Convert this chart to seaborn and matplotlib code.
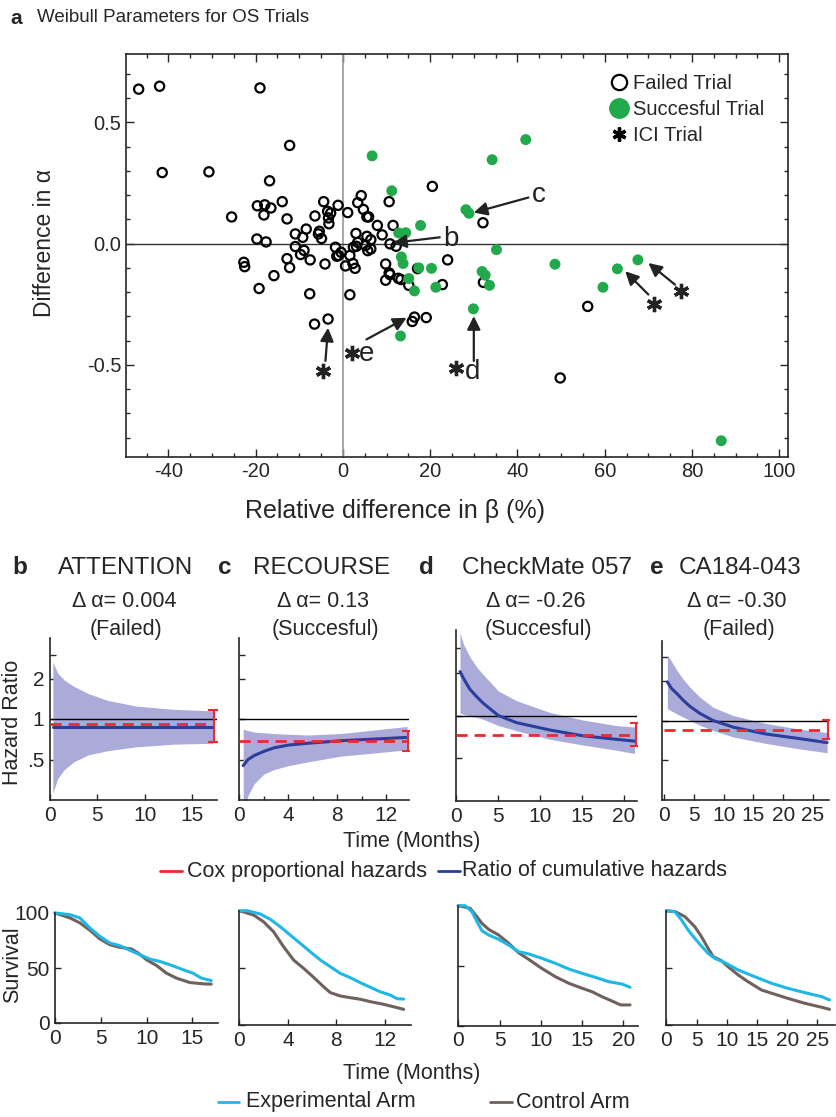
import numpy as np
import pandas as pd
import matplotlib
matplotlib.use("Agg")
import matplotlib.pyplot as plt
import seaborn as sns
from matplotlib.lines import Line2D
from matplotlib.ticker import FixedLocator, NullLocator, MultipleLocator

sns.set_style("ticks")
plt.rcParams['font.family'] = ['Liberation Sans', 'DejaVu Sans']
plt.rcParams['axes.unicode_minus'] = False

# ---------------- data: panel a ----------------
failed_x = [-46.8, -42.0, -19.0, -12.2, -41.4, -30.7, -16.8, 20.5, -25.5, -19.6, -17.9, -16.5, -18.1,
            -13.9, -12.8, -6.4, -4.4, -3.5, -2.8, -3.3, -3.2, -1.1, 1.1, 4.2, 3.4, 4.7, 5.5, 5.9, 7.9,
            10.6, 11.5, 9.0, -10.9, -9.2, -8.4, -5.4, -5.6, -4.9, -19.7, -17.6, 3.0, 5.5, 6.4, 3.4,
            10.8, 12.2, 24.0, 5.2, 2.4, 3.1,
            -22.7, -22.5, -15.8, -19.2, -12.8, -12.2, -10.9, -9.7, -8.9, -7.5, -4.1, -7.6, -1.7, -1.4,
            -1.0, -0.4, 0.6, 1.6, 2.3, 2.8, 1.6, -3.4, -6.5, 5.7, 6.4, 9.8, 10.6, 10.8, 9.8, 12.7,
            13.3, 15.1, 17.1, 22.8, 16.4, 15.9, 19.1, 32.1, 56.1, 49.8, 32.2]
failed_y = [0.637, 0.649, 0.642, 0.405, 0.293, 0.296, 0.259, 0.236, 0.110, 0.156, 0.160, 0.147, 0.118,
            0.173, 0.102, 0.114, 0.173, 0.133, 0.126, 0.106, 0.082, 0.158, 0.128, 0.198, 0.169, 0.141,
            0.110, 0.110, 0.075, 0.173, 0.075, 0.036, 0.040, 0.026, 0.060, 0.051, 0.040, 0.021, 0.019,
            0.007, 0.042, 0.030, 0.016, 0.005, -0.001, -0.011, -0.067, -0.008, -0.015, -0.011,
            -0.077, -0.095, -0.132, -0.185, -0.062, -0.099, -0.012, -0.045, -0.028, -0.067, -0.084,
            -0.207, -0.015, -0.052, -0.049, -0.036, -0.092, -0.049, -0.082, -0.102, -0.211, -0.311,
            -0.332, -0.029, -0.022, -0.084, -0.121, -0.128, -0.151, -0.143, -0.148, -0.172, -0.103,
            -0.169, -0.303, -0.321, -0.305, 0.086, -0.259, -0.554, -0.160]
success_x = [6.7, 41.9, 34.2, 11.2, 28.2, 28.9, 17.8, 12.8, 14.4, 35.2, 48.6, 67.6, 62.9, 59.6,
             13.4, 13.8, 17.4, 20.3, 15.1, 16.4, 21.3, 31.9, 32.6, 33.6, 29.9, 13.2, 86.7]
success_y = [0.362, 0.429, 0.346, 0.218, 0.140, 0.125, 0.075, 0.044, 0.045, -0.025, -0.085, -0.067,
             -0.104, -0.180, -0.055, -0.082, -0.100, -0.102, -0.144, -0.195, -0.180, -0.115, -0.130,
             -0.172, -0.269, -0.381, -0.813]

# annotation letters and arrows
ann_labels = ["b", "c", "d", "e"]
ann_text_x = [23.0, 43.3, 29.7, 5.5]
ann_text_y = [0.020, 0.200, -0.528, -0.457]
arrow_tail_x = [22.2, 42.5, 30.0, 5.4, -4.0, 70.0, 76.1]
arrow_tail_y = [0.026, 0.190, -0.484, -0.395, -0.484, -0.210, -0.169]
arrow_head_x = [11.5, 30.0, 30.0, 14.6, -3.4, 64.7, 70.0]
arrow_head_y = [0.003, 0.128, -0.299, -0.306, -0.347, -0.114, -0.080]
# ICI star marks
star_x = [26.0, 2.1, -4.5, 71.3, 77.5]
star_y = [-0.514, -0.450, -0.525, -0.249, -0.197]

# ---------------- data: hazard ratio panels ----------------
trial_names = ["ATTENTION", "RECOURSE", "CheckMate 057", "CA184-043"]
panel_letters = ["b", "c", "d", "e"]
delta_alpha = ["0.004", "0.13", "-0.26", "-0.30"]
outcome = ["(Failed)", "(Succesful)", "(Succesful)", "(Failed)"]

hr_t = [
    [0.3, 0.8, 1.5, 2.5, 4.0, 6.0, 9.0, 13.0, 17.2],
    [0.3, 0.7, 1.2, 2.0, 2.8, 4.0, 5.6, 8.3, 11.1, 13.7],
    [0.42, 0.81, 1.6, 2.4, 3.2, 5.0, 7.2, 11.2, 15.1, 19.1, 21.3],
    [0.5, 1.2, 2.1, 3.2, 4.3, 6.0, 8.2, 11.6, 17.1, 22.7, 27.4],
]
hr_blue = [
    [0.87, 0.87, 0.87, 0.87, 0.87, 0.87, 0.87, 0.87, 0.87],
    [0.45, 0.50, 0.535, 0.575, 0.61, 0.64, 0.66, 0.69, 0.71, 0.73],
    [2.04, 1.84, 1.53, 1.36, 1.22, 1.0, 0.89, 0.79, 0.72, 0.68, 0.66],
    [1.96, 1.75, 1.6, 1.42, 1.28, 1.13, 1.0, 0.89, 0.79, 0.73, 0.68],
]
hr_upper = [
    [2.65, 2.2, 1.95, 1.75, 1.55, 1.38, 1.25, 1.18, 1.15],
    [0.84, 0.82, 0.80, 0.79, 0.78, 0.77, 0.76, 0.78, 0.83, 0.88],
    [3.85, 3.2, 2.59, 2.2, 1.94, 1.49, 1.27, 1.05, 0.93, 0.85, 0.83],
    [3.12, 2.8, 2.4, 2.05, 1.79, 1.5, 1.26, 1.09, 0.95, 0.86, 0.81],
]
hr_lower = [
    [0.28, 0.36, 0.42, 0.48, 0.54, 0.58, 0.62, 0.65, 0.66],
    [0.20, 0.27, 0.33, 0.39, 0.42, 0.45, 0.48, 0.53, 0.56, 0.59],
    [1.04, 1.02, 0.99, 0.97, 0.94, 0.85, 0.78, 0.68, 0.62, 0.57, 0.54],
    [1.23, 1.18, 1.12, 1.06, 1.0, 0.92, 0.84, 0.75, 0.67, 0.61, 0.57],
]
cox_hr = [0.92, 0.69, 0.73, 0.85]
cox_lo = [0.67, 0.58, 0.61, 0.72]
cox_hi = [1.17, 0.82, 0.88, 1.01]
cox_t = [17.3, 13.75, 21.5, 27.6]

hr_xlim = [(0, 17.6), (0, 13.9), (0, 21.6), (-0.4, 27.8)]
hr_xticks = [[0, 5, 10, 15], [0, 4, 8, 12], [0, 5, 10, 15, 20], [0, 5, 10, 15, 20, 25]]

# ---------------- data: survival panels ----------------
surv_exp_t = [
    [0, 1.63, 2.72, 3.81, 4.9, 5.99, 7.08, 8.17, 9.26, 10.35, 11.44, 12.53, 14.0, 15.07, 15.98, 17.06],
    [0, 0.66, 1.71, 2.54, 3.36, 4.19, 5.01, 5.84, 6.67, 7.5, 8.32, 9.15, 9.98, 10.8, 11.6, 12.45, 13.0, 13.55],
    [0, 0.84, 1.65, 2.26, 2.86, 3.67, 4.88, 6.1, 7.3, 8.52, 10.1, 11.76, 13.4, 15.0, 16.6, 18.2, 19.85, 20.8],
    [0, 1.42, 2.5, 3.6, 4.7, 5.8, 6.9, 8.0, 9.7, 11.9, 14.6, 17.4, 20.1, 22.9, 25.7, 27.0],
]
surv_exp_s = [
    [100, 98.5, 95.5, 86.4, 78.8, 72.7, 70.3, 66.1, 62.1, 58.1, 56.0, 53.0, 48.4, 45.3, 40.8, 38.6],
    [100, 100, 97.1, 92.5, 86.0, 78.7, 71.5, 64.1, 56.9, 51.0, 45.2, 41.4, 37.0, 33.0, 29.1, 26.2, 23.0, 22.7],
    [100, 100, 95.0, 86.7, 79.2, 75.6, 72.0, 67.2, 61.7, 59.8, 56.2, 52.0, 47.2, 43.6, 40.3, 36.7, 34.7, 32.0],
    [100, 99.1, 91.9, 83.1, 75.8, 69.1, 62.7, 58.3, 54.5, 48.1, 42.3, 36.5, 32.1, 28.3, 24.8, 21.9],
]
surv_ctl_t = [
    [0, 1.63, 2.72, 3.81, 4.9, 5.99, 7.08, 8.35, 9.08, 9.99, 11.08, 12.17, 13.26, 14.71, 16.16, 17.06],
    [0, 1.16, 1.98, 2.81, 3.64, 4.46, 5.29, 6.12, 6.94, 7.5, 8.32, 9.15, 9.98, 10.8, 11.9, 12.7, 13.55],
    [0, 1.44, 2.26, 2.86, 3.67, 4.88, 6.1, 7.3, 8.52, 10.1, 11.76, 13.4, 15.0, 16.2, 17.4, 18.6, 19.65, 20.8],
    [0, 1.5, 3.07, 4.7, 5.8, 6.9, 7.75, 9.1, 10.2, 11.9, 13.5, 15.75, 17.95, 20.1, 22.9, 25.7, 27.0],
]
surv_ctl_s = [
    [100, 95.5, 91.0, 84.3, 76.4, 71.2, 68.8, 67.3, 63.6, 57.5, 52.3, 45.3, 40.8, 36.8, 35.6, 35.3],
    [100, 96.2, 90.4, 81.6, 68.5, 56.9, 49.6, 41.7, 33.5, 28.3, 25.4, 23.9, 22.5, 20.4, 18.1, 16.0, 13.7],
    [100, 97.8, 90.8, 85.3, 80.3, 75.6, 68.7, 60.8, 55.3, 47.8, 40.8, 35.3, 31.2, 28.3, 24.2, 20.6, 17.3, 17.3],
    [100, 99.1, 94.8, 86.0, 77.3, 67.1, 59.8, 56.3, 51.0, 43.7, 37.9, 30.6, 26.9, 23.3, 19.0, 15.5, 13.7],
]
surv_xlim = [(0, 17.8), (0, 14.2), (0, 21.8), (0, 27.9)]

# ---------------- colours ----------------
GREEN = "#22A94B"
BLUE = "#2C3E9C"
BAND = "#ABABDA"
RED = "#EC2A2E"
CYAN = "#1FB8E6"
BROWN = "#6F615C"
INK = "#222222"

W, H = 837, 1117
fig = plt.figure(figsize=(W / 100, H / 100), dpi=100)


def axpx(l, t, r, b):
    return fig.add_axes([l / W, 1 - b / H, (r - l) / W, (b - t) / H])


def ftext(x, y, s, **kw):
    fig.text(x / W, 1 - y / H, s, **kw)


def fline(x0, x1, y, color, lw=2):
    fig.add_artist(Line2D([x0 / W, x1 / W], [1 - y / H, 1 - y / H], color=color, lw=lw,
                          transform=fig.transFigure))


STAR = (6, 2, 0)

# ---------------- panel a ----------------
ax = axpx(126, 54, 788, 457)
ax.axvline(0, color="#9a9a9a", lw=1.2, zorder=1)
ax.axhline(0, color="#333333", lw=1.0, zorder=1)
df_f = pd.DataFrame({"x": failed_x, "y": failed_y})
df_s = pd.DataFrame({"x": success_x, "y": success_y})
sns.scatterplot(data=df_f, x="x", y="y", ax=ax, s=44, facecolor="none", edgecolor="black",
                linewidth=1.6, zorder=3)
sns.scatterplot(data=df_s, x="x", y="y", ax=ax, s=62, color=GREEN, edgecolor="none", zorder=4)
ax.set_xlim(-49.7, 102)
ax.set_ylim(-0.88, 0.782)
ax.set_xticks([-40, -20, 0, 20, 40, 60, 80, 100])
ax.set_yticks([-0.5, 0.0, 0.5])
ax.set_yticklabels(["-0.5", "0.0", "0.5"])
ax.xaxis.set_minor_locator(MultipleLocator(5))
ax.yaxis.set_minor_locator(MultipleLocator(0.1))
ax.tick_params(which="both", direction="in", top=True, right=True, labelsize=14.5, width=1)
ax.tick_params(which="major", length=6)
ax.tick_params(which="minor", length=3)
for sp in ax.spines.values():
    sp.set_linewidth(1.2)
ax.set_xlabel("")
ax.set_ylabel("")
ftext(395, 511, "Relative difference in β (%)", ha="center", va="center", fontsize=18)
ftext(45, 243, "Difference in α", ha="center", va="center", fontsize=16.5, rotation=90)
ftext(16, 18, "a", ha="center", va="center", fontsize=15, fontweight="bold")
ftext(37, 18, "Weibull Parameters for OS Trials", ha="left", va="center", fontsize=13.5)

for tx, ty, hx, hy in zip(arrow_tail_x, arrow_tail_y, arrow_head_x, arrow_head_y):
    ax.annotate("", xy=(hx, hy), xytext=(tx, ty),
                arrowprops=dict(arrowstyle="-|>", color=INK, lw=1.6, mutation_scale=20,
                                shrinkA=0, shrinkB=0), zorder=6)
for lab, tx, ty in zip(ann_labels, ann_text_x, ann_text_y):
    ha = "left" if lab in ("b", "c") else "center"
    ax.text(tx, ty, lab, ha=ha, va="center", fontsize=20, color=INK, zorder=6)
ax.plot(star_x, star_y, ls="", marker=STAR, ms=11, mew=2.4, color=INK, zorder=6)

handles = [
    Line2D([], [], marker="o", ls="", mfc="none", mec="black", mew=1.6, ms=11),
    Line2D([], [], marker="o", ls="", mfc=GREEN, mec=GREEN, ms=14),
    Line2D([], [], marker=STAR, ls="", color="black", mew=2.4, ms=10),
]
ax.legend(handles, ["Failed Trial", "Succesful Trial", "ICI Trial"], loc="upper right",
          bbox_to_anchor=(0.985, 0.985), frameon=False, fontsize=14.5, handletextpad=0.1,
          labelspacing=0.35, borderaxespad=0.3, handlelength=1.2)

# ---------------- hazard ratio panels ----------------
hr_pos = [(50, 638, 217, 800), (239.5, 638, 409.5, 800), (456.5, 630, 637, 801), (662, 641, 829.5, 800)]
title_x = [(20, 126), (225, 322), (426, 547), (657, 740)]
sub_x = [124, 323, 536, 737]
for i in range(4):
    a = axpx(*hr_pos[i])
    a.set_yscale("log")
    a.fill_between(hr_t[i], hr_lower[i], hr_upper[i], color=BAND, lw=0, zorder=1)
    a.axhline(1, color="black", lw=1.0, zorder=2)
    sns.lineplot(x=hr_t[i], y=hr_blue[i], ax=a, color=BLUE, lw=2.2, estimator=None, sort=False,
                 zorder=3)
    sns.lineplot(x=[0, cox_t[i]], y=[cox_hr[i], cox_hr[i]], ax=a, color=RED, lw=2, estimator=None,
                 zorder=4)
    a.lines[-1].set_dashes([4, 2.5])
    a.errorbar([cox_t[i]], [cox_hr[i]], yerr=[[cox_hr[i] - cox_lo[i]], [cox_hi[i] - cox_hr[i]]],
               color=RED, lw=1.5, capsize=4, capthick=1.5, zorder=5)
    a.set_ylim(0.25, 4)
    a.set_xlim(*hr_xlim[i])
    a.yaxis.set_major_locator(FixedLocator([0.5, 1, 2, 3]))
    a.yaxis.set_minor_locator(NullLocator())
    if i == 0:
        a.set_yticklabels([".5", "1", "2", ""])
    else:
        a.set_yticklabels([])
    a.set_xticks(hr_xticks[i])
    if i == 1:
        a.xaxis.set_minor_locator(MultipleLocator(2))
    sns.despine(ax=a)
    a.tick_params(which="both", direction="in", labelsize=15, width=1, pad=4)
    a.tick_params(which="major", length=4)
    a.tick_params(which="minor", length=3)
    a.set_xlabel("")
    a.set_ylabel("")
    for sp in a.spines.values():
        sp.set_linewidth(1.2)
    ftext(title_x[i][0], 568, panel_letters[i], ha="center", va="center", fontsize=17.5,
          fontweight="bold")
    ftext(title_x[i][1], 568, trial_names[i], ha="center", va="center", fontsize=17.5)
    ftext(sub_x[i], 602, "Δ α= " + delta_alpha[i], ha="center", va="center", fontsize=15.5)
    ftext(sub_x[i] + 2, 630, outcome[i], ha="center", va="center", fontsize=15.5)

ftext(13, 722, "Hazard Ratio", ha="center", va="center", fontsize=15.5, rotation=90)
ftext(412, 842, "Time (Months)", ha="center", va="center", fontsize=15.5)
fline(160, 182, 871, RED)
ftext(187, 871, "Cox proportional hazards", ha="left", va="center", fontsize=15.5)
fline(438, 460, 871, BLUE)
ftext(462, 871, "Ratio of cumulative hazards", ha="left", va="center", fontsize=15.5)

# ---------------- survival panels ----------------
sv_pos = [(55, 913, 218, 1023), (239.5, 910.7, 411.5, 1025), (458.3, 905.7, 638.3, 1025.7),
          (666.4, 910.7, 835, 1025)]
for i in range(4):
    a = axpx(*sv_pos[i])
    sns.lineplot(x=surv_ctl_t[i], y=surv_ctl_s[i], ax=a, color=BROWN, lw=2.2, estimator=None,
                 sort=False)
    sns.lineplot(x=surv_exp_t[i], y=surv_exp_s[i], ax=a, color=CYAN, lw=2.2, estimator=None,
                 sort=False)
    a.set_ylim(0, 100)
    a.set_xlim(*surv_xlim[i])
    a.set_yticks([0, 50, 100])
    if i == 0:
        a.set_yticklabels(["0", "50", "100"])
    else:
        a.set_yticklabels([])
    a.set_xticks(hr_xticks[i])
    sns.despine(ax=a)
    a.tick_params(which="both", direction="in", labelsize=15, width=1, length=4, pad=4)
    a.set_xlabel("")
    a.set_ylabel("")
    for sp in a.spines.values():
        sp.set_linewidth(1.2)
    for ln in a.lines:
        ln.set_clip_on(False)

ftext(13, 965, "Survival", ha="center", va="center", fontsize=15.5, rotation=90)
ftext(412, 1073, "Time (Months)", ha="center", va="center", fontsize=15.5)
fline(218, 239, 1102, CYAN)
ftext(246, 1102, "Experimental Arm", ha="left", va="center", fontsize=15.5)
fline(490, 512, 1102, BROWN)
ftext(516, 1102, "Control Arm", ha="left", va="center", fontsize=15.5)

fig.savefig("out.png", dpi=100)
